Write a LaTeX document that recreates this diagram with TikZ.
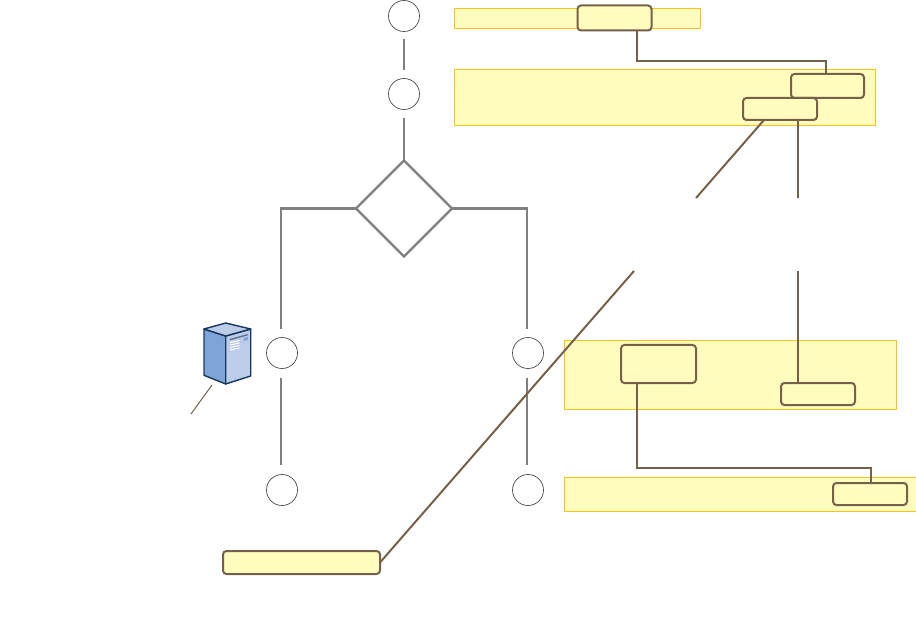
\documentclass[tikz,border=0pt]{standalone}
\usepackage{xcolor}
\usetikzlibrary{shapes.geometric}
\definecolor{panelfill}{HTML}{FFFCBE}
\definecolor{paneledge}{HTML}{FFC21A}
\definecolor{notebrown}{HTML}{75614A}
\definecolor{flowgrey}{HTML}{808080}
\definecolor{srvdark}{HTML}{17375E}
\definecolor{srvleft}{HTML}{7FA5D8}
\definecolor{srvlight}{HTML}{BCCDEA}
\begin{document}
\begin{tikzpicture}[x=1pt,y=-1pt,
	step node/.style={circle,draw=black!70,line width=0.7pt,fill=white,minimum size=31pt,inner sep=0pt,outer sep=0pt},
	panel node/.style={rectangle,draw=paneledge,line width=1pt,fill=panelfill,inner sep=0pt,outer sep=0pt},
	note node/.style={rectangle,rounded corners=3.5pt,draw=notebrown,line width=2pt,fill=panelfill,inner sep=0pt,outer sep=0pt},
	flow line/.style={draw=flowgrey,line width=2.2pt},
	note line/.style={draw=notebrown,line width=2pt}]

	\useasboundingbox (0,0) rectangle (916,628);

	\foreach \place/\name/\boxw/\boxh in {{(577.5,18.5)/panel1/246/20}, {(665,97.5)/panel2/421/56}, {(730.5,375)/panel3/332/69}, {(742.5,494.5)/panel4/356/34}}
		\node[panel node,minimum width=\boxw pt,minimum height=\boxh pt] (\name) at \place {};

	\foreach \place/\name in {{(404,16)/step1}, {(404,94)/step2}, {(282,353)/step3}, {(528,353)/step4}, {(282,490)/step5}, {(528,490)/step6}}
		\node[step node] (\name) at \place {};

	\node[diamond,draw=flowgrey,line width=2.2pt,fill=white,minimum width=96pt,minimum height=96pt,inner sep=0pt,outer sep=0pt] (choice) at (404,208.5) {};

	\foreach \place/\name/\boxw/\boxh in {{(614.5,18)/note1/74/25}, {(827.5,86)/note2/73/24}, {(780,109)/note3/74/22}, {(658.5,364)/note4/75/38}, {(818,394)/note5/74/22}, {(870,494)/note6/74/22}, {(301.5,562.5)/note7/157/23}}
		\node[note node,minimum width=\boxw pt,minimum height=\boxh pt] (\name) at \place {};

	% grey flow
	\path[flow line,shorten <=8pt,shorten >=8pt] (step1) edge (step2);
	\path[flow line,shorten <=9pt] (step2) edge (choice);
	\draw[flow line,shorten >=8pt] (choice.west) -| ([xshift=-1pt]step3.north);
	\draw[flow line,shorten >=8pt] (choice.east) -| ([xshift=-1pt]step4.north);
	\draw[flow line,shorten <=10pt,shorten >=10pt] ([xshift=-1pt]step3.south) -- ([xshift=-1pt]step5.north);
	\draw[flow line,shorten <=10pt,shorten >=10pt] ([xshift=-1pt]step4.south) -- ([xshift=-1pt]step6.north);

	% brown connectors
	\coordinate (gap1a) at (696,198);
	\coordinate (gap1b) at (634,271);
	\coordinate (gap2a) at (798,198);
	\coordinate (gap2b) at (798,271);
	\draw[note line] ([xshift=22.5pt]note1.south) |- (826,61) -- (note2.north -| 826,61);
	\draw[note line] ([xshift=-21.5pt]note4.south) |- (871,468) -- (note6.north -| 871,468);
	\draw[note line] ([xshift=-16pt]note3.south) -- (gap1a);
	\draw[note line] (gap1b) -- (note7.east);
	\draw[note line] ([xshift=18pt]note3.south) -- (gap2a);
	\draw[note line] (gap2b) -- ([xshift=-20pt]note5.north);

	% server
	\filldraw[fill=srvleft,draw=srvdark,line width=1.4pt,line join=round] (204,329) -- (225.7,336) -- (225.7,384) -- (204,375.3) -- cycle;
	\filldraw[fill=srvlight,draw=srvdark,line width=1.4pt,line join=round] (225.7,336) -- (250.7,329) -- (250.7,376) -- (225.7,384) -- cycle;
	\filldraw[fill=srvlight,draw=srvdark,line width=1.4pt,line join=round] (204,329) -- (225.7,323) -- (250.7,329) -- (225.7,336) -- cycle;
	\fill[srvdark!70] (229.5,339) -- (247.5,334) -- (247.5,335.5) -- (229.5,340.5) -- cycle;
	\fill[srvleft] (243.5,338) -- (248,336.8) -- (248,340) -- (243.5,341) -- cycle;
	\foreach \yy in {342.5,345,347.5,350}
		\draw[white,line width=1pt] (230,\yy) -- (239.5,\yy-2);

	\coordinate (leader1) at (212,385);
	\coordinate (leader2) at (191,414);
	\draw[notebrown,line width=1pt] (leader1) -- (leader2);
\end{tikzpicture}
\end{document}
